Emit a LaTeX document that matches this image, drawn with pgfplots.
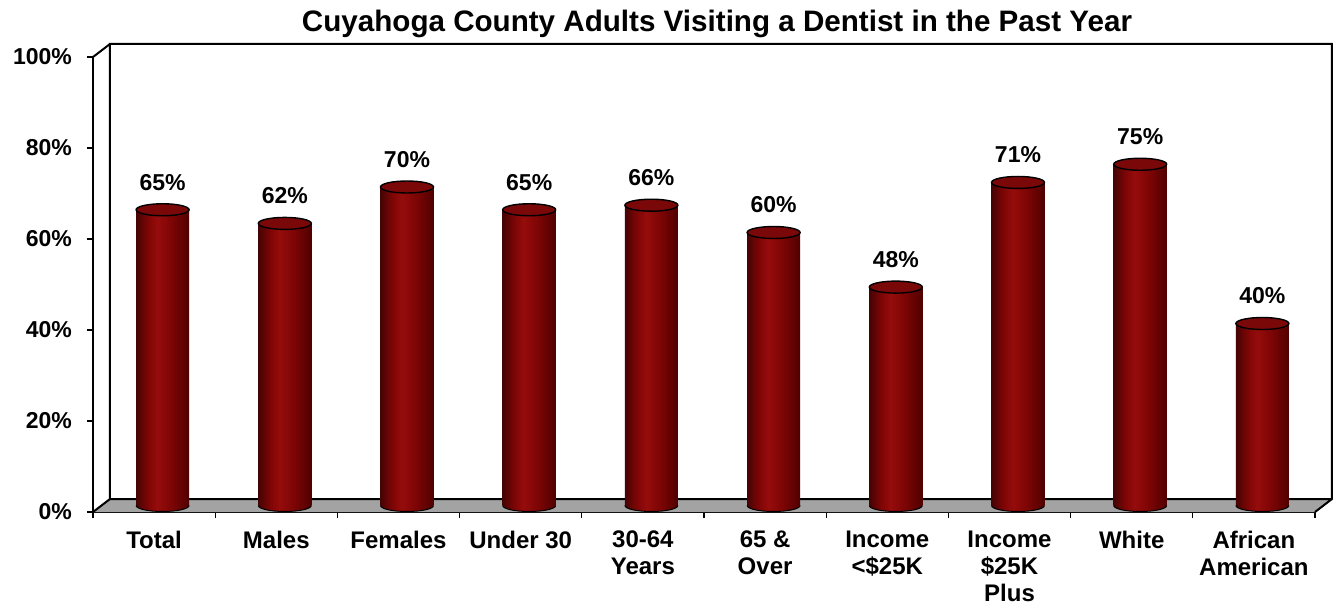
\documentclass[border=0pt]{standalone}
\usepackage{pgfplots}
\pgfplotsset{compat=1.18}
\usepackage{fontspec}
\setmainfont{Liberation Sans}

\definecolor{cdark}{HTML}{450404}
\definecolor{cmid}{HTML}{7E0505}
\definecolor{clight}{HTML}{960C0C}
\definecolor{cdark2}{HTML}{500000}
\definecolor{ctop}{HTML}{7A0808}
\definecolor{floorgray}{HTML}{A3A3A3}

% horizontal shading for the cylinders
\pgfdeclarehorizontalshading{cyl}{100bp}{color(0bp)=(cdark); color(25bp)=(cdark);
  color(36bp)=(cmid); color(45bp)=(clight); color(58bp)=(cmid); color(75bp)=(cdark2); color(100bp)=(cdark2)}

\pgfdeclareplotmark{cyltop}{%
  \pgfpathellipse{\pgfpointorigin}{\pgfpoint{13.25pt}{0pt}}{\pgfpoint{0pt}{3pt}}%
  \pgfusepath{fill,stroke}}
\pgfdeclareplotmark{cylbot}{%
  \pgfpathmoveto{\pgfpoint{-13.25pt}{0pt}}%
  \pgfpatharc{180}{360}{13.25pt and 3pt}%
  \pgfpathclose
  \pgfshadepath{cyl}{0}%
  \pgfusepath{discard}%
  \pgfpathmoveto{\pgfpoint{-13.25pt}{0pt}}%
  \pgfpatharc{180}{360}{13.25pt and 3pt}%
  \pgfusepath{stroke}}

\pgfplotsset{cylbar/.style={ybar, bar width=26.5pt, draw=none, shading=cyl, shade, xshift=4.25pt, yshift=3.25pt}}

\begin{document}
\begin{tikzpicture}
\useasboundingbox (-46.5pt,-46.5pt) rectangle (622.5pt,256pt);
\begin{axis}[
  scale only axis,
  width=611pt, height=227.5pt,
  xmin=-0.5, xmax=9.5,
  ymin=0, ymax=100,
  axis x line*=bottom, axis y line*=left,
  axis line style={line width=1pt, -},
  clip=false,
  /pgf/number format/assume math mode=true,
  xtick={0,...,9},
  xticklabels={Total,Males,Females,Under 30,30-64\\Years,65 \&\\Over,Income\\<\$25K,Income\\\$25K\\Plus,White,African\\American},
  minor xtick={-0.5,0.5,...,9.5},
  major x tick style={draw=none},
  minor x tick style={black, line width=0.6pt},
  minor tick length=3pt,
  ytick={0,20,...,100},
  yticklabels={0\%,20\%,40\%,60\%,80\%,100\%},
  major tick length=3pt,
  tick align=outside,
  ytick style={black, line width=0.6pt},
  yticklabel style={font=\fontsize{11.5}{13}\selectfont\bfseries, xshift=-4pt},
  xticklabel style={align=center, font=\fontsize{12}{13.5}\selectfont\bfseries, yshift=-3pt},
  title={Cuyahoga County Adults Visiting a Dentist in the Past Year},
  title style={font=\fontsize{14.8}{17}\selectfont\bfseries, at={(0.5,1)}, anchor=south, yshift=0pt, xshift=6.5pt},
]
% back walls and floor
\fill[floorgray] (rel axis cs:0,0) -- (rel axis cs:1,0) -- ([shift={(8.5pt,6.5pt)}]rel axis cs:1,0) -- ([shift={(8.5pt,6.5pt)}]rel axis cs:0,0) -- cycle;
\draw[line width=1pt] ([shift={(8.5pt,6.5pt)}]rel axis cs:1,0) -- ([shift={(8.5pt,6.5pt)}]rel axis cs:0,0) -- ([shift={(8.5pt,6.5pt)}]rel axis cs:0,1) -- ([shift={(8.5pt,6.5pt)}]rel axis cs:1,1) -- ([shift={(8.5pt,6.5pt)}]rel axis cs:1,0) -- (rel axis cs:1,0);
\draw[line width=1pt] (rel axis cs:0,0) -- ([shift={(8.5pt,6.5pt)}]rel axis cs:0,0);
\draw[line width=1pt] (rel axis cs:0,1) -- ([shift={(8.5pt,6.5pt)}]rel axis cs:0,1);

% cylinders, one plot per bar so each gets its own shading
\addplot[cylbar] coordinates {(0,65)};
\addplot[cylbar] coordinates {(1,62)};
\addplot[cylbar] coordinates {(2,70)};
\addplot[cylbar] coordinates {(3,65)};
\addplot[cylbar] coordinates {(4,66)};
\addplot[cylbar] coordinates {(5,60)};
\addplot[cylbar] coordinates {(6,48)};
\addplot[cylbar] coordinates {(7,71)};
\addplot[cylbar] coordinates {(8,75)};
\addplot[cylbar] coordinates {(9,40)};
\addplot[only marks, mark=cylbot, mark options={draw=black, line width=0.5pt}, xshift=4.25pt, yshift=3.25pt]
  coordinates {(0,0) (1,0) (2,0) (3,0) (4,0) (5,0) (6,0) (7,0) (8,0) (9,0)};
\addplot[only marks, mark=cyltop, mark options={fill=ctop, draw=black, line width=0.7pt}, xshift=4.25pt, yshift=3.25pt,
  nodes near coords={\pgfmathprintnumber{\pgfplotspointmeta}\%},
  every node near coord/.append style={font=\fontsize{11.5}{13}\selectfont\bfseries, black, anchor=south, yshift=6pt}]
  coordinates {(0,65) (1,62) (2,70) (3,65) (4,66) (5,60) (6,48) (7,71) (8,75) (9,40)};
\end{axis}
\end{tikzpicture}
\end{document}
